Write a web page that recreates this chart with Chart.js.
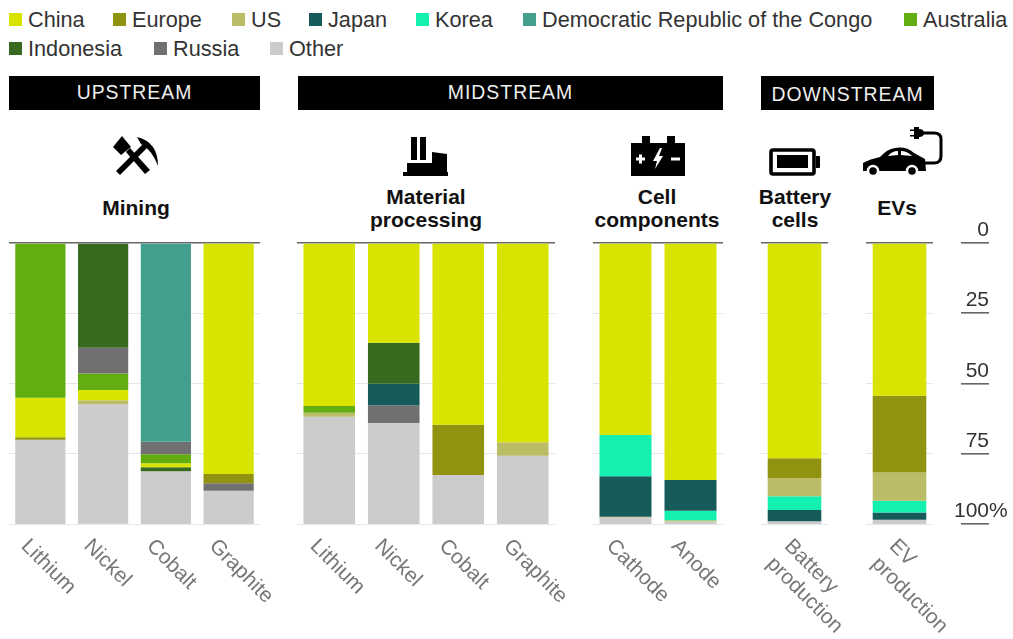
<!DOCTYPE html>
<html>
<head>
<meta charset="utf-8">
<title>Battery supply chain</title>
<script src="https://cdn.jsdelivr.net/npm/chart.js@4"></script>
<style>
  html, body { margin: 0; padding: 0; background: #fff; }
  body { width: 1013px; height: 639px; position: relative; overflow: hidden; font-family: "Liberation Sans", Arial, sans-serif; }
  #legend span.item { position: absolute; display: flex; align-items: center; white-space: nowrap; font-size: 21.7px; line-height: 29px; color: #333; }
  #legend i { display: block; width: 13px; height: 13px; margin-right: 6px; }
  .band { position: absolute; top: 76px; height: 34px; line-height: 33px; background: #000; color: #eee; text-align: center; font-size: 19.4px; letter-spacing: 1px; }
  .title { position: absolute; transform: translateX(-50%); text-align: center; font-weight: bold; font-size: 21px; line-height: 23px; color: #111; white-space: nowrap; }
  svg.icon { position: absolute; }
  canvas { position: absolute; }
</style>
</head>
<body>
<div id="legend"></div>

<div class="band" style="left:9px;width:251px">UPSTREAM</div>
<div class="band" style="left:298px;width:425px">MIDSTREAM</div>
<div class="band" style="left:761px;width:173px;line-height:36px">DOWNSTREAM</div>

<div class="title" style="left:136px;top:196px">Mining</div>
<div class="title" style="left:426px;top:185px">Material<br>processing</div>
<div class="title" style="left:657px;top:185px">Cell<br>components</div>
<div class="title" style="left:795px;top:185px">Battery<br>cells</div>
<div class="title" style="left:897px;top:196px">EVs</div>

<!-- hammer and pick -->
<svg class="icon" style="left:113px;top:136px" width="46" height="40" viewBox="0 0 46 40">
  <path d="M3 35 L32 6 L36 10 L7 39 Z" fill="#000"/>
  <path d="M24 1 Q45 6 45 30 Q39 14 28 8 Z" fill="#000"/>
  <path d="M13 16 L17 12 L37 34 L32 38 Z" fill="#000"/>
  <path d="M9 0 L18 11 L8 19 L0 11 Z" fill="#000"/>
</svg>
<!-- factory -->
<svg class="icon" style="left:403px;top:136px" width="46" height="41" viewBox="0 0 46 41">
  <rect x="8" y="1" width="6" height="23" fill="#000"/>
  <rect x="17" y="1" width="6" height="23" fill="#000"/>
  <path d="M4 36 L4 27 L29 27 L29 16 L44 18 L44 36 Z" fill="#000"/>
  <rect x="0" y="36" width="45" height="4" fill="#000"/>
</svg>
<!-- battery pack -->
<svg class="icon" style="left:631px;top:136px" width="55" height="40" viewBox="0 0 55 40">
  <rect x="0" y="7" width="54" height="33" fill="#000"/>
  <rect x="11" y="0" width="8" height="8" fill="#000"/>
  <rect x="36" y="0" width="8" height="8" fill="#000"/>
  <path d="M5 23 H14 M9.5 18.5 V27.5" stroke="#fff" stroke-width="3"/>
  <path d="M29 12 L22 25 L26 25 L24 33 L32 20 L28 20 L31 12 Z" fill="#fff"/>
  <path d="M40 23 H49" stroke="#fff" stroke-width="3"/>
</svg>
<!-- battery cell -->
<svg class="icon" style="left:769px;top:148px" width="52" height="29" viewBox="0 0 52 29">
  <rect x="2" y="2" width="43" height="24" rx="2" fill="none" stroke="#000" stroke-width="3.6"/>
  <rect x="8" y="7" width="31" height="13" fill="#000"/>
  <path d="M47 8 H50 Q51 8 51 9 V19 Q51 20 50 20 H47 Z" fill="#000"/>
</svg>
<!-- electric car and plug -->
<svg class="icon" style="left:862px;top:126px" width="83" height="51" viewBox="0 0 83 51">
  <path d="M1 45 L1 37 Q8 33 18 31 Q25 23 33 22 Q44 20 52 27 L63 33 L64 45 Z" fill="#000"/>
  <path d="M26 30 Q30 25 36 25 L36 29 Z M39 25 Q45 25 50 30 L39 29 Z" fill="#fff"/>
  <circle cx="11" cy="45" r="5" fill="#000" stroke="#fff" stroke-width="2.5"/>
  <circle cx="50" cy="45" r="5" fill="#000" stroke="#fff" stroke-width="2.5"/>
  <path d="M62 37 H72 Q79 37 79 30 V13 Q79 7 72 7 H60" fill="none" stroke="#000" stroke-width="3"/>
  <path d="M52 1 H57 V3 Q62 3 62 7 Q62 11 57 11 V13 H52 V10.5 H48 V9 H52 V5 H48 V3.5 H52 Z" fill="#000"/>
</svg>

<canvas id="panel0"></canvas>
<canvas id="panel1"></canvas>
<canvas id="panel2"></canvas>
<canvas id="panel3"></canvas>
<canvas id="panel4"></canvas>
<canvas id="axisChart"></canvas>

<script>
// every bar, left to right
var barLabels = [
  ["Lithium"], ["Nickel"], ["Cobalt"], ["Graphite"],
  ["Lithium"], ["Nickel"], ["Cobalt"], ["Graphite"],
  ["Cathode"], ["Anode"],
  ["Battery", "production"], ["EV", "production"]
];

// share of each bar in percent
var china     = [14.0, 3.7, 1.4, 82.2, 58.0, 35.5, 64.7, 70.9, 68.3, 84.3, 76.6, 54.4];
var europe    = [0.9, 0, 0, 3.3, 0, 0, 17.9, 0, 0, 0, 7.1, 27.3];
var us        = [0, 1.3, 0, 0, 1.4, 0, 0, 4.8, 0.3, 0.4, 6.4, 10.0];
var japan     = [0, 0, 0, 0, 0, 7.7, 0, 0, 14.4, 11.0, 4.0, 2.6];
var korea     = [0, 0, 0, 0, 0, 0, 0, 0, 14.7, 3.4, 4.9, 4.2];
var drc       = [0, 0, 70.7, 0, 0, 0, 0, 0, 0, 0, 0, 0];
var australia = [55.1, 5.9, 3.2, 0, 2.4, 0, 0, 0, 0, 0, 0, 0];
var indonesia = [0, 37.3, 1.4, 0, 0, 14.6, 0, 0, 0, 0, 0, 0];
var russia    = [0, 9.1, 4.5, 2.7, 0, 6.3, 0, 0, 0, 0, 0, 0];
var other     = [30.0, 42.6, 18.8, 11.8, 38.2, 35.9, 17.4, 24.3, 2.3, 0.9, 1.0, 1.5];

var countryNames = ["China", "Europe", "US", "Japan", "Korea", "Democratic Republic of the Congo", "Australia", "Indonesia", "Russia", "Other"];
var countryValues = [china, europe, us, japan, korea, drc, australia, indonesia, russia, other];
var countryColors = ["#d9e300", "#8f930f", "#bbbd66", "#165a59", "#14f0b0", "#429f8e", "#62ae10", "#376a1f", "#707070", "#cccccc"];

// stacking order top to bottom, the countries sit differently in each bar
var barOrders = [
  ["Australia", "China", "Europe", "Other"],
  ["Indonesia", "Russia", "Australia", "China", "US", "Other"],
  ["Democratic Republic of the Congo", "Russia", "Australia", "China", "Indonesia", "Other"],
  ["China", "Europe", "Russia", "Other"],
  ["China", "Australia", "US", "Other"],
  ["China", "Indonesia", "Japan", "Russia", "Other"],
  ["China", "Europe", "Other"],
  ["China", "US", "Other"],
  ["China", "Korea", "Japan", "US", "Other"],
  ["China", "Japan", "Korea", "US", "Other"],
  ["China", "Europe", "US", "Korea", "Japan", "Other"],
  ["China", "Europe", "US", "Korea", "Japan", "Other"]
];

var axisTicks = [0, 25, 50, 75, 100];

// first bar and bar count of each panel
var panelStart = [0, 4, 8, 10, 11];
var panelCount = [4, 4, 2, 1, 1];
var panelLeft  = [9, 297, 593, 761, 866];
var panelWidth = [251, 258, 130, 67, 67];

// legend sits in two rows, seven names then three
var legendLeft = [9, 113, 232, 309, 416, 523, 904, 9, 154, 270];
var legendBox = document.getElementById("legend");
countryNames.forEach(function (name, i) {
  var item = document.createElement("span");
  item.className = "item";
  item.style.left = legendLeft[i] + "px";
  item.style.top = (i < 7 ? 5 : 34) + "px";
  item.innerHTML = "<i style='background:" + countryColors[i] + "'></i>" + name;
  legendBox.appendChild(item);
});

var plotTop = 243, plotBottom = 524, canvasTop = 233, canvasBottom = 639, sidePad = 30;

// slanted category names under the bars
var slantedLabels = {
  id: "slantedLabels",
  afterDraw: function (chart) {
    var ctx = chart.ctx, xs = chart.scales.x;
    chart.data.labels.forEach(function (lines, i) {
      // two line names start further right so both lines hang around the bar
      var shift = lines.length > 1 ? 9 : 0;
      ctx.save();
      ctx.translate(xs.getPixelForValue(i) - 16 + shift, plotBottom + 19 - canvasTop);
      ctx.rotate(Math.PI / 4);
      ctx.font = "21px 'Liberation Sans', Arial, sans-serif";
      ctx.fillStyle = "#777";
      ctx.textBaseline = "middle";
      lines.forEach(function (line, n) {
        ctx.fillText(line, 0, n * 25);
      });
      ctx.restore();
    });
  }
};

function gridColor(c) {
  return c.tick && c.tick.value === 0 ? "#666" : "#e6e6e6";
}

function buildDatasets(start, count) {
  var sets = [];
  for (var b = start; b < start + count; b++) {
    barOrders[b].forEach(function (name) {
      var c = countryNames.indexOf(name);
      var row = [];
      for (var k = start; k < start + count; k++) row.push(k === b ? countryValues[c][b] : null);
      sets.push({ label: name, data: row, backgroundColor: countryColors[c], stack: "share" });
    });
  }
  return sets;
}

panelStart.forEach(function (start, p) {
  var canvas = document.getElementById("panel" + p);
  var w = panelWidth[p] + sidePad * 2, h = canvasBottom - canvasTop;
  canvas.style.left = (panelLeft[p] - sidePad) + "px";
  canvas.style.top = canvasTop + "px";
  canvas.style.width = w + "px";
  canvas.style.height = h + "px";
  canvas.width = w;
  canvas.height = h;
  new Chart(canvas, {
    type: "bar",
    data: { labels: barLabels.slice(start, start + panelCount[p]), datasets: buildDatasets(start, panelCount[p]) },
    options: {
      responsive: false,
      animation: false,
      barPercentage: 0.8,
      categoryPercentage: 1,
      layout: { padding: { left: sidePad, right: sidePad, top: plotTop - canvasTop, bottom: canvasBottom - plotBottom } },
      plugins: { legend: { display: false }, tooltip: { enabled: false } },
      scales: {
        x: { stacked: true, display: false },
        y: {
          stacked: true, reverse: true, min: 0, max: 100,
          afterBuildTicks: function (s) { s.ticks = axisTicks.map(function (v) { return { value: v }; }); },
          ticks: { display: false },
          border: { display: false },
          grid: { color: gridColor, lineWidth: function (c) { return c.tick && c.tick.value === 0 ? 1.6 : 1; }, drawTicks: false }
        }
      }
    },
    plugins: [slantedLabels]
  });
});

// percent scale on the far right, numbers sit on top of their tick lines
var axisLabels = {
  id: "axisLabels",
  afterDraw: function (chart) {
    var ctx = chart.ctx, ys = chart.scales.y, right = chart.chartArea.right;
    ctx.save();
    ctx.font = "21px 'Liberation Sans', Arial, sans-serif";
    ctx.fillStyle = "#333";
    ctx.textAlign = "right";
    ctx.textBaseline = "alphabetic";
    axisTicks.forEach(function (v) {
      var y = ys.getPixelForValue(v) - 7;
      if (v === 100) ctx.fillText(v + "%", right + ctx.measureText("%").width, y);
      else ctx.fillText(String(v), right, y);
    });
    ctx.restore();
  }
};

var axisCanvas = document.getElementById("axisChart");
axisCanvas.style.left = "931px";
axisCanvas.style.top = (canvasTop - 20) + "px";
axisCanvas.style.width = "82px";
axisCanvas.style.height = "320px";
axisCanvas.width = 82;
axisCanvas.height = 320;
new Chart(axisCanvas, {
  type: "bar",
  data: { labels: [""], datasets: [{ data: [] }] },
  options: {
    responsive: false,
    animation: false,
    layout: { padding: { left: 30, right: 24, top: plotTop - canvasTop + 20, bottom: canvasTop + 300 - plotBottom } },
    plugins: { legend: { display: false }, tooltip: { enabled: false } },
    scales: {
      x: { display: false },
      y: {
        reverse: true, min: 0, max: 100,
        afterBuildTicks: function (s) { s.ticks = axisTicks.map(function (v) { return { value: v }; }); },
        ticks: { display: false },
        border: { display: false },
        grid: { color: "#666", lineWidth: 1.6, drawTicks: false }
      }
    }
  },
  plugins: [axisLabels]
});
</script>
</body>
</html>
